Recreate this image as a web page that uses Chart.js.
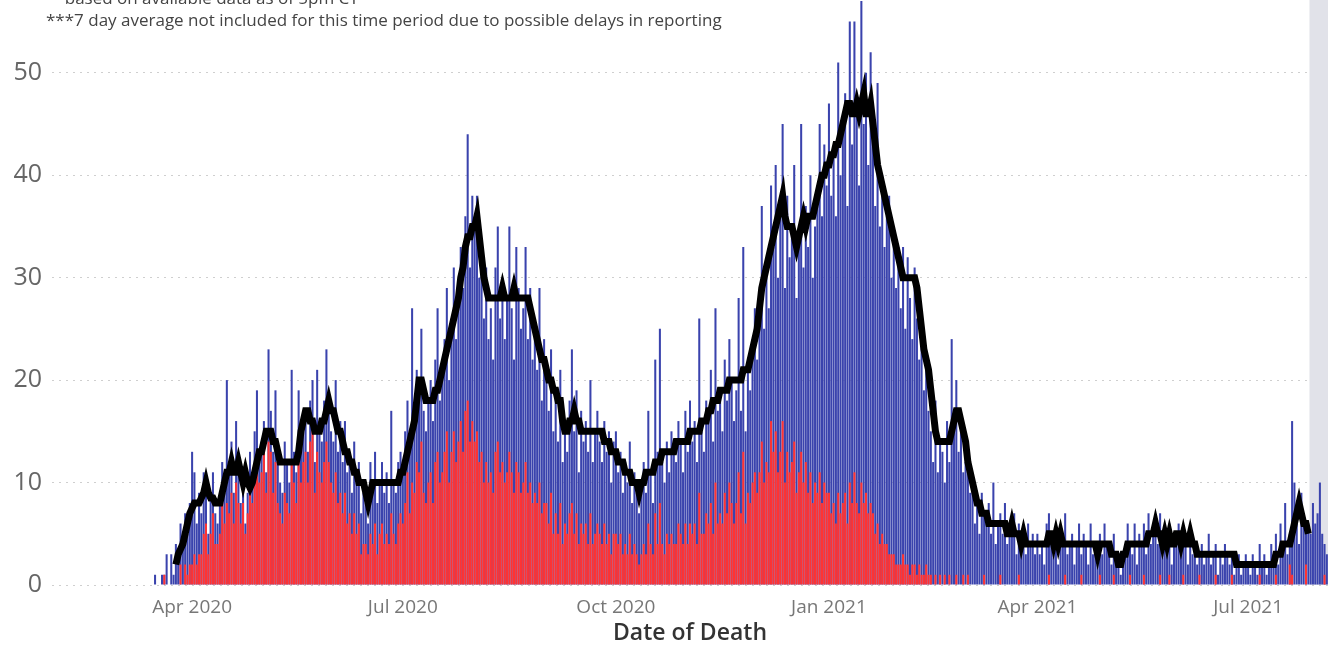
<!DOCTYPE html>
<html>
<head>
<meta charset="utf-8">
<script src="https://cdn.jsdelivr.net/npm/chart.js@4.4.1/dist/chart.umd.min.js"></script>
<style>
  html, body { margin: 0; padding: 0; background: #fff; overflow: hidden; }
  #wrap { position: relative; width: 1334px; height: 645px; overflow: hidden; }
  #note {
    position: absolute; left: 46px; top: -13px;
    font: 17px "Open Sans", sans-serif; color: #444; line-height: 22px; white-space: nowrap;
  }
</style>
</head>
<body>
<div id="wrap">
  <canvas id="deathsChart" width="1334" height="645"></canvas>
  <div id="note">**based on available data as of 5pm CT<br>***7 day average not included for this time period due to possible delays in reporting</div>
</div>
<script>
// daily values from 2020-02-01 to 2021-08-04
const firstDay = "2020-02-01";

const totalDeaths = [
  // Feb 2020
  0,0,0,0,0,0,0,0,0,0,0,0,0,0,0,0,0,0,0,0,0,0,0,0,0,0,0,0,0,
  // Mar 2020
  0,0,0,0,0,0,0,0,0,0,0,0,0,0,0,1,0,0,1,1,3,0,3,1,4,3,6,4,7,5,8,
  // Apr 2020
  13,11,6,9,7,11,10,5,9,11,7,6,8,12,9,20,11,14,9,16,12,8,11,6,9,13,10,15,19,12,
  // May 2020
  14,16,11,23,17,13,19,12,10,9,14,12,10,21,13,11,19,14,17,16,13,18,20,12,21,15,14,18,23,17,15,
  // Jun 2020
  14,20,13,16,12,16,11,13,9,14,10,12,7,9,8,6,12,9,13,8,10,12,9,11,8,17,10,9,12,13,
  // Jul 2020
  12,15,18,14,27,16,21,19,25,17,15,18,20,16,22,27,18,21,24,29,20,26,31,24,28,33,29,36,44,31,38,
  // Aug 2020
  36,38,30,33,26,31,24,27,22,31,35,26,30,24,28,35,27,22,33,29,25,27,33,24,29,22,26,21,29,18,24,
  // Sep 2020
  21,17,23,15,19,14,21,12,16,13,18,23,15,19,11,17,14,16,13,20,12,15,17,14,12,16,13,15,10,14,
  // Oct 2020
  15,11,13,9,12,10,14,8,11,9,7,10,12,9,17,11,8,22,13,25,12,10,14,11,15,13,12,16,14,11,17,
  // Nov 2020
  13,18,14,16,12,26,15,13,18,16,21,14,27,17,19,15,22,18,24,20,16,19,28,17,33,15,21,19,24,27,
  // Dec 2020
  22,28,37,25,30,27,39,33,41,30,36,45,29,38,32,35,41,28,34,45,31,37,33,40,30,35,38,45,36,43,39,
  // Jan 2021
  47,38,42,36,51,40,44,48,37,55,43,55,46,39,57,45,50,41,52,44,37,49,35,40,33,36,38,30,34,29,33,
  // Feb 2021
  27,33,25,32,28,24,31,26,22,24,19,21,17,15,12,18,11,14,13,10,16,12,24,15,20,13,17,11,
  // Mar 2021
  12,14,9,10,6,8,5,9,7,6,8,5,10,4,6,7,5,8,4,6,5,7,3,6,4,5,3,6,4,5,3,
  // Apr 2021
  5,3,4,2,6,7,4,3,6,2,5,4,7,3,4,5,2,4,6,3,5,4,2,6,3,4,2,5,3,6,
  // May 2021
  4,3,2,5,2,3,1,2,3,6,4,3,6,2,5,4,6,3,7,4,6,5,4,7,3,5,4,6,2,5,4,
  // Jun 2021
  6,3,5,4,2,5,3,4,2,3,4,2,3,5,2,3,4,1,3,2,4,3,2,3,1,2,3,1,2,3,
  // Jul 2021
  2,1,3,2,1,4,2,3,1,2,4,3,5,2,6,4,8,3,5,16,10,6,4,9,7,5,6,5,8,6,7,
  // Aug 2021
  10,5,4,3
];

const redDeaths = [
  0,0,0,0,0,0,0,0,0,0,0,0,0,0,0,0,0,0,0,0,0,0,0,0,0,0,0,0,0,
  0,0,0,0,0,0,0,0,0,0,0,0,0,0,0,0,0,0,0,1,0,0,0,0,0,0,2,0,2,1,2,
  2,3,2,3,3,5,6,3,5,7,4,4,5,8,6,8,7,9,6,10,8,6,8,5,7,10,8,11,12,10,
  11,13,9,14,13,9,12,8,7,6,9,8,7,12,10,8,12,10,12,13,10,14,15,9,13,11,10,12,14,12,10,
  9,11,8,9,7,9,6,7,5,7,5,6,3,4,4,3,5,4,6,3,5,6,4,5,4,7,5,4,6,7,
  6,8,11,7,10,9,12,11,14,9,8,10,11,8,12,13,10,11,13,15,10,13,15,12,14,16,13,17,18,14,16,
  14,15,12,13,10,12,10,11,9,13,14,11,12,10,11,13,11,9,12,11,9,10,12,9,10,8,9,8,10,7,8,
  8,6,9,5,7,5,8,4,6,5,7,8,5,7,4,6,5,6,4,7,4,5,6,5,4,6,4,5,3,5,
  5,4,5,3,4,3,5,3,4,3,2,3,4,3,6,4,3,7,4,8,4,3,5,4,5,4,4,6,5,4,6,
  4,6,5,6,4,9,5,5,7,6,8,5,10,6,7,6,9,7,10,8,6,8,11,7,13,6,9,8,10,11,
  9,11,14,10,12,11,16,13,15,11,13,16,10,13,11,12,14,9,11,13,10,12,9,11,8,10,9,11,8,10,9,
  9,7,8,6,9,7,8,9,6,10,8,11,8,7,10,8,9,7,8,7,5,6,4,5,4,4,3,3,3,2,2,
  2,3,2,2,1,2,2,1,2,1,1,2,1,1,0,1,0,1,0,1,0,1,0,0,1,0,0,1,
  0,1,0,0,0,0,0,0,1,0,0,0,0,0,0,1,0,0,0,0,0,0,0,1,0,0,0,0,0,0,0,
  0,0,0,0,0,1,0,0,0,0,0,0,1,0,0,0,0,0,0,1,0,0,0,0,0,0,0,1,0,0,
  0,0,0,1,0,0,0,0,0,0,1,0,0,0,0,0,1,0,0,0,0,0,0,1,0,0,0,1,0,0,0,
  0,0,1,0,0,0,0,0,0,1,0,0,0,0,0,0,1,0,0,0,0,0,0,1,0,0,0,0,0,0,
  0,0,0,0,0,1,0,0,0,0,0,0,1,0,0,0,0,0,2,1,0,0,0,0,0,2,0,0,0,0,0,
  0,0,1,0
];

const avg7 = [
  null,null,null,null,null,null,null,null,null,null,null,null,null,null,null,null,null,null,null,null,null,null,null,null,null,null,null,null,null,
  null,null,null,null,null,null,null,null,null,null,null,null,null,null,null,null,null,null,null,null,null,null,null,null,2,3,3.5,4,5,6,7,
  7.5,8,8,8,8.5,9,10,9,8.5,8.5,8,8,8,9,10,11,11,12,11,11,12,11,10,11,10,9.5,10,11,12,13,
  13,14,15,15,15,14,14,13,12,12,12,12,12,12,12,12,13,15,16,17,17,16,16,15,15,15,16,16,17,18,17,
  17,16,15,15,14,13,13,12,12,11,11,10,10,10,9,8,9,10,10,10,10,10,10,10,10,10,10,10,10,11,
  11,12,13,14,15,16,18,20,20,19,18,18,18,18,19,19,20,21,22,23,24,25,26,27,28,30,31,33,34,34,35,
  35,36,34,32,30,29,28,28,28,28,28,28,29,28,28,28,28,29,28,28,28,28,28,28,27,26,25,24,23,22,22,
  21,20,20,19,19,18,18,16,15,15,16,16,17,16,16,15,15,15,15,15,15,15,15,15,15,14,14,14,13,13,
  13,12,12,12,11,11,11,10,10,10,9,10,10,11,11,11,11,12,12,12,13,13,13,13,13,13,14,14,14,14,14,
  14,15,15,15,15,15,16,16,16,17,17,18,18,18,19,19,19,19,20,20,20,20,20,20,21,21,21,22,23,24,
  25,27,29,30,31,32,33,34,35,36,37,38,36,35,35,35,34,33,34,35,36,35,36,36,36,37,38,39,40,40,41,
  41,42,42,43,43,44,45,46,47,47,46,46,47,46,47,48,46,46,47,45,43,41,40,39,38,37,36,35,34,33,32,
  31,30,30,30,30,30,30,29,27,25,23,22,21,19,17,15,14,14,14,14,14,14,15,16,17,17,16,15,
  14,12,11,10,9,8,8,7,7,7,6,6,6,6,6,6,6,6,5,5,6,5,5,5,4,5,4,4,4,4,4,
  4,4,4,4,4,5,5,4,5,4,5,4,4,4,4,4,4,4,4,4,4,4,4,4,4,4,3,4,4,4,
  4,4,3,3,3,2,2,3,3,4,4,4,4,4,4,4,4,4,5,5,5,6,5,5,4,5,4,5,4,4,5,
  5,4,5,4,4,5,4,4,3,3,3,3,3,3,3,3,3,3,3,3,3,3,3,3,3,2,2,2,2,2,
  2,2,2,2,2,2,2,2,2,2,2,2,3,3,3,4,4,4,4,5,6,7,8,7,6,6,5,null,null,null,null,
  null,null,null,null
];

const tickDates = ["2020-04-01", "2020-07-01", "2020-10-01", "2021-01-01", "2021-04-01", "2021-07-01"];
const tickLabels = ["Apr 2020", "Jul 2020", "Oct 2020", "Jan 2021", "Apr 2021", "Jul 2021"];
const noAvgFrom = "2021-07-28";

// one category per day
const dayLabels = [];
const d0 = new Date(firstDay + "T00:00:00Z");
for (let i = 0; i < totalDeaths.length; i++) {
  const d = new Date(d0.getTime() + i * 86400000);
  dayLabels.push(d.toISOString().slice(0, 10));
}

const bandPlugin = {
  id: "noAvgBand",
  beforeDatasetsDraw(chart) {
    const { ctx, chartArea, scales: { x } } = chart;
    const i = dayLabels.indexOf(noAvgFrom);
    const half = (x.getPixelForValue(1) - x.getPixelForValue(0)) / 2;
    const x0 = x.getPixelForValue(i) - half;
    ctx.save();
    ctx.fillStyle = "#e1e2e9";
    ctx.fillRect(x0, 0, chartArea.right - x0, chartArea.bottom);
    ctx.restore();
  }
};

const font = "'Open Sans', 'Segoe UI', sans-serif";

const ctx = document.getElementById("deathsChart").getContext("2d");
new Chart(ctx, {
  type: "bar",
  data: {
    labels: dayLabels,
    datasets: [
      {
        type: "line",
        label: "7 day average",
        data: avg7,
        borderColor: "#000",
        borderWidth: 7,
        borderJoinStyle: "miter",
        pointRadius: 0,
        tension: 0,
        order: 0,
      },
      {
        label: "Red",
        data: redDeaths,
        backgroundColor: "#ff3333",
        grouped: false,
        barPercentage: 0.88,
        categoryPercentage: 1,
        order: 1,
      },
      {
        label: "Deaths",
        data: totalDeaths,
        backgroundColor: "#3a43ad",
        grouped: false,
        barPercentage: 0.88,
        categoryPercentage: 1,
        order: 2,
      },
    ],
  },
  options: {
    responsive: false,
    animation: false,
    layout: { padding: { top: 1, right: 6, left: 0, bottom: 0 } },
    plugins: { legend: { display: false }, tooltip: { enabled: false } },
    scales: {
      x: {
        grid: { display: false },
        border: { display: false },
        ticks: {
          autoSkip: false,
          maxRotation: 0,
          minRotation: 0,
          padding: 3,
          color: "#777",
          font: { family: font, size: 19 },
          callback: (v, i) => {
            const k = tickDates.indexOf(dayLabels[i]);
            return k >= 0 ? tickLabels[k] : null;
          },
        },
        title: {
          display: true,
          text: "Date of Death",
          color: "#333",
          padding: { top: 0, bottom: 0 },
          font: { family: font, size: 23, weight: "600", lineHeight: 1 },
        },
        afterFit: (s) => { s.height = 60; s.paddingLeft = 0; s.paddingRight = 0; },
      },
      y: {
        min: 0,
        max: 57,
        grid: { color: "#cfcfcf", drawTicks: false },
        border: { display: false, dash: [2, 5] },
        ticks: {
          stepSize: 10,
          padding: 10,
          color: "#666",
          font: { family: font, size: 25 },
          callback: (v) => (v % 10 === 0 ? v : null),
        },
        afterFit: (s) => { s.width = 52; s.paddingTop = 0; s.paddingBottom = 0; },
      },
    },
  },
  plugins: [bandPlugin],
});
</script>
</body>
</html>
